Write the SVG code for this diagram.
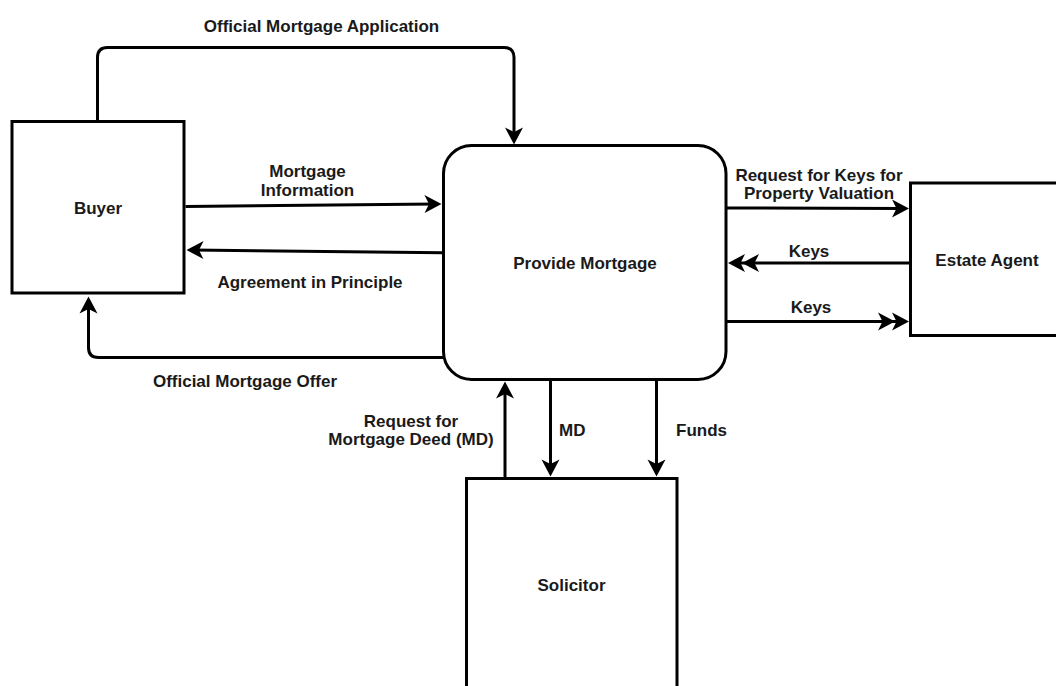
<svg xmlns="http://www.w3.org/2000/svg" width="1056" height="686" viewBox="0 0 1056 686">
  <style>
    .box { fill: #ffffff; stroke: #000000; stroke-width: 3; }
    .edge { fill: none; stroke: #000000; stroke-width: 3; }
    .lbl { font-family: "Liberation Sans", Arial, sans-serif; font-size: 17px; font-weight: bold; fill: #1a1a1a; text-anchor: middle; }
    .lbl-start { text-anchor: start; }
  </style>
  <defs>
    <marker id="arrow" markerUnits="userSpaceOnUse" orient="auto" refX="0" refY="0" markerWidth="40" markerHeight="40" overflow="visible">
      <path d="M6,0 L-11,-9 L-6.5,0 L-11,9 Z" fill="#000000"/>
    </marker>
    <marker id="arrow2" markerUnits="userSpaceOnUse" orient="auto" refX="0" refY="0" markerWidth="60" markerHeight="40" overflow="visible">
      <path d="M6,0 L-11,-9 L-6.5,0 L-11,9 Z M-8,0 L-25,-9 L-20.5,0 L-25,9 Z" fill="#000000"/>
    </marker>
  </defs>
  <rect width="1056" height="686" fill="#ffffff"/>

  <g id="connectors">
    <g id="e-application">
      <path class="edge" d="M97.5,121 V57.5 Q97.5,47.5 107.5,47.5 H504 Q514,47.5 514,57.5 V138.5" marker-end="url(#arrow)"/>
      <text class="lbl" x="321.5" y="32">Official Mortgage Application</text>
    </g>
    <g id="e-info">
      <path class="edge" d="M185.5,206.5 L435.5,204" marker-end="url(#arrow)"/>
      <text class="lbl" x="307.5" y="177">Mortgage</text>
      <text class="lbl" x="307.5" y="196">Information</text>
    </g>
    <g id="e-aip">
      <path class="edge" d="M443,252.7 L192.5,250" marker-end="url(#arrow)"/>
      <text class="lbl" x="310" y="288">Agreement in Principle</text>
    </g>
    <g id="e-offer">
      <path class="edge" d="M443,357.5 H98.5 Q88.5,357.5 88.5,347.5 V302.5" marker-end="url(#arrow)"/>
      <text class="lbl" x="245" y="387">Official Mortgage Offer</text>
    </g>
    <g id="e-reqkeys">
      <path class="edge" d="M726,208 L903,208.5" marker-end="url(#arrow)"/>
      <text class="lbl" x="819" y="181">Request for Keys for</text>
      <text class="lbl" x="819" y="199">Property Valuation</text>
    </g>
    <g id="e-keys-in">
      <path class="edge" d="M910,263 L734,263" marker-end="url(#arrow2)"/>
      <text class="lbl" x="809" y="257">Keys</text>
    </g>
    <g id="e-keys-out">
      <path class="edge" d="M726,321.5 L903,321.5" marker-end="url(#arrow2)"/>
      <text class="lbl" x="811" y="313">Keys</text>
    </g>
    <g id="e-reqmd">
      <path class="edge" d="M505,478 V387.5" marker-end="url(#arrow)"/>
      <text class="lbl" x="411" y="427">Request for</text>
      <text class="lbl" x="411" y="445">Mortgage Deed (MD)</text>
    </g>
    <g id="e-md">
      <path class="edge" d="M550.5,380 V470.5" marker-end="url(#arrow)"/>
      <text class="lbl lbl-start" x="559" y="436">MD</text>
    </g>
    <g id="e-funds">
      <path class="edge" d="M656.5,380 V470.5" marker-end="url(#arrow)"/>
      <text class="lbl lbl-start" x="676" y="436">Funds</text>
    </g>
  </g>

  <g id="buyer">
    <rect class="box" x="12" y="121.5" width="172" height="171.5"/>
    <text class="lbl" x="98" y="214">Buyer</text>
  </g>
  <g id="provide-mortgage">
    <rect class="box" x="443.5" y="145.5" width="282.5" height="234" rx="28" ry="28"/>
    <text class="lbl" x="585" y="269">Provide Mortgage</text>
  </g>
  <g id="estate-agent">
    <rect class="box" x="910.5" y="183" width="170" height="152.5"/>
    <text class="lbl" x="987" y="266">Estate Agent</text>
  </g>
  <g id="solicitor">
    <rect class="box" x="466.5" y="478.5" width="210.5" height="240"/>
    <text class="lbl" x="571.5" y="591">Solicitor</text>
  </g>
</svg>
